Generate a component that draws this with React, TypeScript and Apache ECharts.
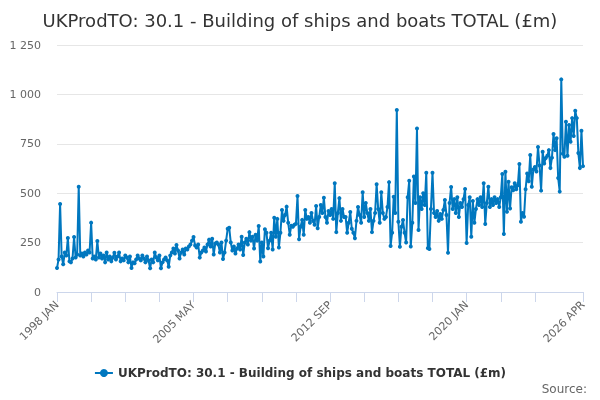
import { useEffect, useRef } from "react";
import * as echarts from "echarts";

const SERIES_NAME = "UKProdTO: 30.1 - Building of ships and boats TOTAL (£m)";
const MONTHS = ["JAN", "FEB", "MAR", "APR", "MAY", "JUN", "JUL", "AUG", "SEP", "OCT", "NOV", "DEC"];

// monthly values (£m), one array per year
const y1998 = [121, 165, 445, 180, 140, 200, 185, 273, 155, 150, 170, 278];
const y1999 = [175, 190, 533, 185, 195, 180, 200, 190, 210, 200, 351, 170];
const y2000 = [180, 165, 258, 175, 195, 170, 185, 150, 200, 165, 180, 155];
const y2001 = [175, 199, 165, 180, 200, 155, 170, 160, 185, 175, 150, 180];
const y2002 = [121, 150, 145, 165, 185, 170, 160, 185, 170, 150, 180, 160];
const y2003 = [120, 165, 150, 200, 175, 160, 185, 120, 150, 165, 175, 160];
const y2004 = [128, 185, 200, 220, 195, 238, 210, 170, 200, 215, 190, 220];
const y2005 = [215, 230, 240, 260, 278, 235, 225, 240, 174, 200, 210, 225];
const y2006 = [205, 240, 265, 230, 270, 190, 245, 250, 240, 200, 250, 167];
const y2007 = [200, 260, 320, 325, 250, 210, 230, 195, 220, 240, 215, 280];
const y2008 = [187, 250, 270, 240, 303, 260, 280, 220, 290, 260, 334, 154];
const y2009 = [250, 180, 318, 300, 221, 260, 300, 215, 376, 280, 370, 225];
const y2010 = [300, 415, 360, 390, 432, 350, 290, 335, 330, 340, 345, 486];
const y2011 = [267, 330, 365, 290, 415, 370, 380, 350, 400, 360, 340, 435];
const y2012 = [323, 380, 440, 400, 477, 380, 350, 410, 390, 420, 370, 550];
const y2013 = [303, 400, 475, 360, 420, 380, 380, 300, 350, 405, 320, 300];
const y2014 = [272, 360, 430, 390, 350, 505, 380, 450, 400, 360, 420, 303];
const y2015 = [360, 400, 545, 420, 350, 505, 400, 370, 380, 430, 556, 233];
const y2016 = [300, 482, 400, 921, 356, 229, 330, 364, 300, 250, 480, 563];
const y2017 = [230, 350, 584, 450, 827, 314, 480, 420, 500, 440, 604, 222];
const y2018 = [218, 420, 604, 400, 380, 410, 360, 395, 370, 415, 466, 390];
const y2019 = [199, 450, 531, 420, 470, 400, 480, 380, 450, 430, 470, 521];
const y2020 = [248, 440, 480, 280, 460, 350, 420, 470, 440, 480, 430, 550];
const y2021 = [344, 450, 533, 430, 470, 440, 480, 450, 470, 430, 480, 597];
const y2022 = [293, 609, 406, 558, 423, 530, 515, 550, 520, 540, 648, 356];
const y2023 = [400, 381, 520, 600, 560, 693, 533, 620, 633, 610, 734, 640];
const y2024 = [513, 710, 650, 678, 690, 718, 627, 680, 800, 718, 778, 577];
const y2025 = [508, 1076, 700, 685, 862, 690, 845, 760, 880, 790, 917, 880];
const y2026 = [703, 627, 816, 637];

const years = [
  y1998, y1999, y2000, y2001, y2002, y2003, y2004, y2005, y2006, y2007,
  y2008, y2009, y2010, y2011, y2012, y2013, y2014, y2015, y2016, y2017,
  y2018, y2019, y2020, y2021, y2022, y2023, y2024, y2025, y2026,
];

const categories: string[] = [];
const values: number[] = [];
years.forEach((arr, i) => {
  arr.forEach((v, m) => {
    categories.push(`${1998 + i} ${MONTHS[m]}`);
    values.push(v);
  });
});
const LAST = values.length - 1;

export default function App() {
  const ref = useRef<HTMLDivElement | null>(null);

  useEffect(() => {
    if (!ref.current) return;
    const chart = echarts.init(ref.current, undefined, { renderer: "svg" });

    chart.setOption({
      animation: false,
      textStyle: { fontFamily: "DejaVu Sans" },
      title: [
        {
          text: SERIES_NAME,
          left: "center",
          top: 6,
          textStyle: { color: "#333333", fontSize: 18, fontWeight: "normal", fontFamily: "DejaVu Sans" },
        },
        {
          text: "Source:",
          right: 8,
          bottom: 0,
          textStyle: { color: "#666666", fontSize: 12, fontWeight: "normal", fontFamily: "DejaVu Sans" },
        },
      ],
      legend: {
        bottom: 16,
        left: "center",
        itemWidth: 18,
        itemHeight: 10,
        textStyle: { color: "#333333", fontSize: 12, fontWeight: "bold", fontFamily: "DejaVu Sans" },
        data: [SERIES_NAME],
      },
      grid: { left: 57, right: 17, top: 45, bottom: 108 },
      xAxis: {
        type: "category",
        data: categories,
        boundaryGap: false,
        axisLine: { lineStyle: { color: "#ccd6eb" } },
        axisTick: {
          length: 10,
          lineStyle: { color: "#ccd6eb" },
          interval: (i: number) => (i % 22 === 0 && i < 330) || i === LAST,
        },
        axisLabel: {
          rotate: 45,
          color: "#666666",
          fontSize: 11,
          margin: 11,
          interval: (i: number) => i % 88 === 0 || i === LAST,
        },
        splitLine: { show: false },
      },
      yAxis: {
        type: "value",
        min: 0,
        max: 1250,
        interval: 250,
        axisLine: { show: false },
        axisTick: { show: false },
        axisLabel: {
          color: "#666666",
          fontSize: 11,
          margin: 16,
          formatter: (v: number) => String(v).replace(/\B(?=(\d{3})+(?!\d))/g, " "),
        },
        splitLine: { lineStyle: { color: "#e6e6e6" } },
      },
      series: [
        {
          name: SERIES_NAME,
          type: "line",
          data: values,
          symbol: "circle",
          symbolSize: 4,
          showAllSymbol: true,
          itemStyle: { color: "#0077bf" },
          lineStyle: { color: "#0077bf", width: 2 },
        },
      ],
    });

    return () => chart.dispose();
  }, []);

  return (
    <div
      ref={ref}
      style={{ position: "fixed", left: 0, top: 0, width: 600, height: 400 }}
    />
  );
}
